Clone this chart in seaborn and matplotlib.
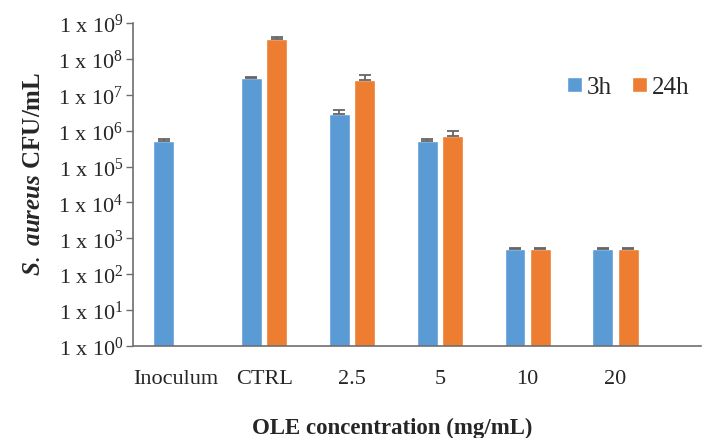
import numpy as np
import pandas as pd
import matplotlib
matplotlib.use("Agg")
import matplotlib.pyplot as plt
import seaborn as sns

categories = ["Inoculum", "CTRL", "2.5", "5", "10", "20"]
hours = ["3h", "24h"]
cfu_3h = [5.0e5, 3.0e7, 2.9e6, 5.0e5, 5.0e2, 5.0e2]
cfu_24h = [np.nan, 3.5e8, 2.6e7, 7.0e5, 5.0e2, 5.0e2]
err_3h = [1.0e5, 1.0e6, 1.0e6, 1.0e5, 2.0e1, 2.0e1]
err_24h = [np.nan, 6.0e7, 9.0e6, 2.5e5, 2.0e1, 2.0e1]
ytick_vals = [1e0, 1e1, 1e2, 1e3, 1e4, 1e5, 1e6, 1e7, 1e8, 1e9]
ytick_labels = [r"1 x 10$^{%d}$" % i for i in range(10)]

df = pd.DataFrame({
    "cat": categories * 2,
    "time": ["3h"] * 6 + ["24h"] * 6,
    "cfu": cfu_3h + cfu_24h,
})
errs = {"3h": err_3h, "24h": err_24h}
vals = {"3h": cfu_3h, "24h": cfu_24h}

sns.set_style("white")
plt.rcParams["font.family"] = ["Liberation Serif", "DejaVu Serif"]
plt.rcParams["mathtext.fontset"] = "custom"
plt.rcParams["mathtext.rm"] = "Liberation Serif"
plt.rcParams["mathtext.it"] = "Liberation Serif:italic:bold"
plt.rcParams["mathtext.bf"] = "Liberation Serif:bold"

fig = plt.figure(figsize=(7.05, 4.39), dpi=100)
ax = fig.add_axes([0.189, 0.21, 0.805, 0.735])
ax.set_yscale("log")

palette = {"3h": "#5B9BD5", "24h": "#ED7D31"}
sns.barplot(data=df, x="cat", y="cfu", hue="time", order=categories,
            hue_order=hours, palette=palette, errorbar=None, width=0.58,
            gap=0.18, saturation=1, ax=ax, legend=True)

for cont, h in zip(ax.containers, hours):
    for p in cont.patches:
        cx = p.get_x() + p.get_width() / 2
        idx = int(round(cx))
        ax.errorbar(cx, vals[h][idx], yerr=[[0], [errs[h][idx]]],
                    fmt="none", ecolor="#666666", elinewidth=1.3,
                    capsize=4.5, capthick=1.3)

ax.set_ylim(1e0, 1e9)
ax.set_xlim(-0.49, 5.97)
ax.set_yticks(ytick_vals)
ax.set_yticklabels(ytick_labels, fontsize=16)
ax.yaxis.set_minor_locator(matplotlib.ticker.NullLocator())
ax.tick_params(axis="y", which="major", direction="out", length=5,
               width=1, color="#6e6e6e", left=True, pad=2)
ax.tick_params(axis="x", length=0, labelsize=16, pad=17)

for s in ["top", "right"]:
    ax.spines[s].set_visible(False)
for s in ["left", "bottom"]:
    ax.spines[s].set_color("#6e6e6e")
    ax.spines[s].set_linewidth(1.2)

ax.set_xlabel("OLE concentration (mg/mL)", fontsize=16.5, fontweight="bold")
ax.xaxis.set_label_coords(0.457, -0.22)
ax.set_ylabel(r"$\mathit{S.\ aureus}$ CFU/mL", fontsize=18,
              fontweight="bold")
ax.yaxis.set_label_coords(-0.155, 0.535)

leg = ax.legend(loc="upper right", bbox_to_anchor=(1.02, 0.905), ncol=2,
                frameon=False, fontsize=18, handlelength=0.6,
                handleheight=0.6, handletextpad=0.2, columnspacing=0.8)

fig.savefig("out.png", dpi=100)
